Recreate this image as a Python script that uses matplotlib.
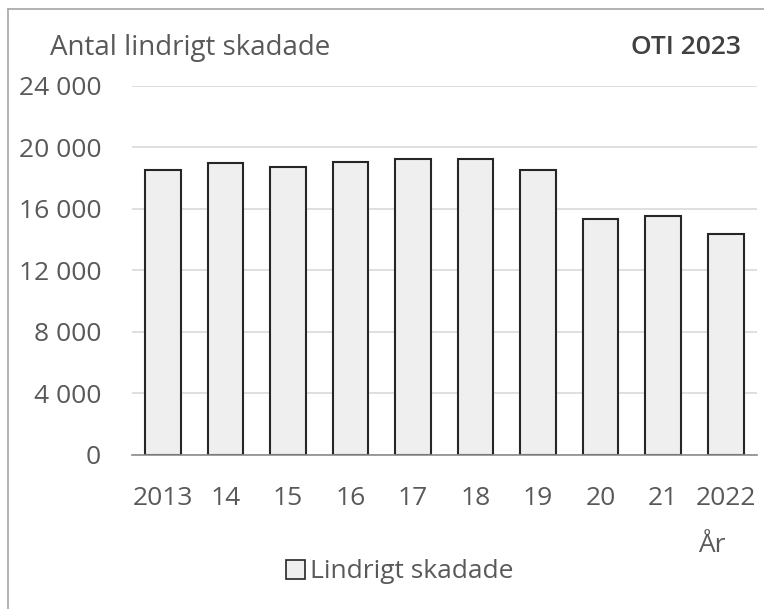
import matplotlib
matplotlib.use("Agg")
import matplotlib.pyplot as plt
from matplotlib.lines import Line2D
from matplotlib.patches import Patch

categories = ["2013", "14", "15", "16", "17", "18", "19", "20", "21", "2022"]
values = [18530, 18960, 18750, 19050, 19270, 19270, 18530, 15320, 15520, 14370]
yticks = [0, 4000, 8000, 12000, 16000, 20000, 24000]
ytick_labels = ["0", "4 000", "8 000", "12 000", "16 000", "20 000", "24 000"]

plt.rcParams['font.family'] = ['Open Sans', 'DejaVu Sans']
W, H = 764, 609
fig = plt.figure(figsize=(W/100, H/100), dpi=100)
fig.patch.set_facecolor('white')
ax = fig.add_axes([131.7/W, 1-455/H, (757-131.7)/W, (455-85.8)/H])

x = range(len(categories))
ax.bar(x, values, width=0.57, color='#efefef', edgecolor='#262626', linewidth=1.5, zorder=3)
ax.set_xlim(-0.5, len(categories)-0.5)
ax.set_ylim(0, 24000)
ax.set_yticks(yticks)
ax.set_yticklabels(ytick_labels)
ax.set_xticks(list(x))
ax.set_xticklabels(categories)
ax.grid(axis='y', color='#d9d9d9', linewidth=1.2, zorder=0)
ax.set_axisbelow(True)
for s in ['top', 'right', 'left']:
    ax.spines[s].set_visible(False)
ax.spines['bottom'].set_color('#8c8c8c')
ax.spines['bottom'].set_linewidth(1.2)
ax.spines['bottom'].set_zorder(4)
ax.tick_params(axis='both', length=0, labelsize=19, labelcolor='#595959')
ax.tick_params(axis='y', pad=22)
ax.tick_params(axis='x', pad=22)

fig.text(50/W, 1-48/H, "Antal lindrigt skadade", fontsize=20, color='#595959', ha='left', va='center')
fig.text(741/W, 1-48/H, "OTI 2023", fontsize=19, color='#404040', fontweight='semibold', ha='right', va='center')
fig.text(712/W, 1-545/H, "År", fontsize=19, color='#595959', ha='center', va='center')

handle = Patch(facecolor='#efefef', edgecolor='#262626', linewidth=1.2)
fig.legend([handle], ["Lindrigt skadade"], loc='center', bbox_to_anchor=(400/W, 1-572/H),
           frameon=False, fontsize=19, labelcolor='#595959', handlelength=0.7, handleheight=0.7,
           handletextpad=0.2)

fig.add_artist(Line2D([8/W, 1.0], [1-9/H, 1-9/H], transform=fig.transFigure, color='#a6a6a6', linewidth=1.2))
fig.add_artist(Line2D([8/W, 8/W], [0, 1-9/H], transform=fig.transFigure, color='#a6a6a6', linewidth=1.2))

fig.savefig("out.png", dpi=100, facecolor='white')
